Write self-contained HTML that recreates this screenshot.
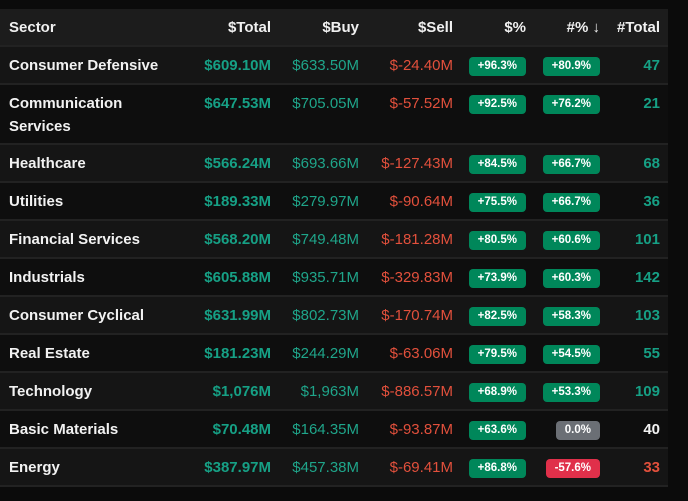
<!DOCTYPE html>
<html><head><meta charset="utf-8"><style>
body{margin:0;width:688px;height:501px;background:#0b0b0b;font-family:"Liberation Sans",sans-serif;overflow:hidden}
#t{position:absolute;left:0;top:9px;width:668px}
.r{position:relative;border-bottom:2px solid #222}
.r>div{position:absolute;font-size:15px;line-height:18px}
.h{height:36px;background:#1c1c1c;color:#f0f0f0;font-weight:bold}
.s{left:9px;color:#f2f2f2;font-weight:bold}
.tot{right:397px;color:#16a085;font-weight:bold;text-align:right}
.buy{right:309px;color:#1fa58a;text-align:right}
.sell{right:215px;color:#e2503c;text-align:right}
.b1,.b2{font-size:11.5px!important;font-weight:bold;color:#fff;background:#00875a;border-radius:4px;padding:0 9px;line-height:19px!important;height:19px}
.b1{right:142px}.b2{right:68px}
.n{right:8px;font-weight:bold;color:#16a085;text-align:right}
</style></head><body>
<div id="t"></div>
<script>
const sectors=["Consumer Defensive","Communication Services","Healthcare","Utilities","Financial Services","Industrials","Consumer Cyclical","Real Estate","Technology","Basic Materials","Energy"];
const totals=["$609.10M","$647.53M","$566.24M","$189.33M","$568.20M","$605.88M","$631.99M","$181.23M","$1,076M","$70.48M","$387.97M"];
const buys=["$633.50M","$705.05M","$693.66M","$279.97M","$749.48M","$935.71M","$802.73M","$244.29M","$1,963M","$164.35M","$457.38M"];
const sells=["$-24.40M","$-57.52M","$-127.43M","$-90.64M","$-181.28M","$-329.83M","$-170.74M","$-63.06M","$-886.57M","$-93.87M","$-69.41M"];
const dollarPct=["+96.3%","+92.5%","+84.5%","+75.5%","+80.5%","+73.9%","+82.5%","+79.5%","+68.9%","+63.6%","+86.8%"];
const countPct=["+80.9%","+76.2%","+66.7%","+66.7%","+60.6%","+60.3%","+58.3%","+54.5%","+53.3%","0.0%","-57.6%"];
const counts=[47,21,68,36,101,142,103,55,109,40,33];
const t=document.getElementById('t');
function cell(row,cls,txt,top,name,style){const d=document.createElement('div');d.className=cls;d.textContent=txt;d.style.top=top+'px';if(style)Object.assign(d.style,style);


row.appendChild(d);return d;}
const h=document.createElement('div');h.className='r h';


t.appendChild(h);
[["Sector",{left:'9px'}],["$Total",{right:'397px'}],["$Buy",{right:'309px'}],["$Sell",{right:'215px'}],["$%",{right:'142px'}],["#% ↓",{right:'68px'}],["#Total",{right:'8px'}]].forEach(([x,s])=>{
const d=cell(h,'',x,10,'header-'+x.replace(/[^a-z]/gi,'').toLowerCase()||'header',s);
});
sectors.forEach((s,i)=>{
const r=document.createElement('div');r.className='r';
const tall=s.length>20;const H=tall?58:36;
r.style.height=H+'px';r.style.background=i%2?'#0e0e0e':'#151515';


t.appendChild(r);
const y=10;
cell(r,'s',s,y,'sector-name',tall?{width:'130px',lineHeight:'23px',top:'7px'}:null);
cell(r,'tot',totals[i],y,'total-value');
cell(r,'buy',buys[i],y,'buy-value');
cell(r,'sell',sells[i],y,'sell-value');
cell(r,'b1',dollarPct[i],y,'dollar-pct-badge');
const c=countPct[i];const neg=c[0]=='-',zero=parseFloat(c)==0;
cell(r,'b2',c,y,'count-pct-badge',{background:neg?'#e0304a':zero?'#6b6f75':'#00875a'});
cell(r,'n',counts[i],y,'total-count',{color:neg?'#e2503c':zero?'#f2f2f2':'#16a085'});
});
</script></body></html>
